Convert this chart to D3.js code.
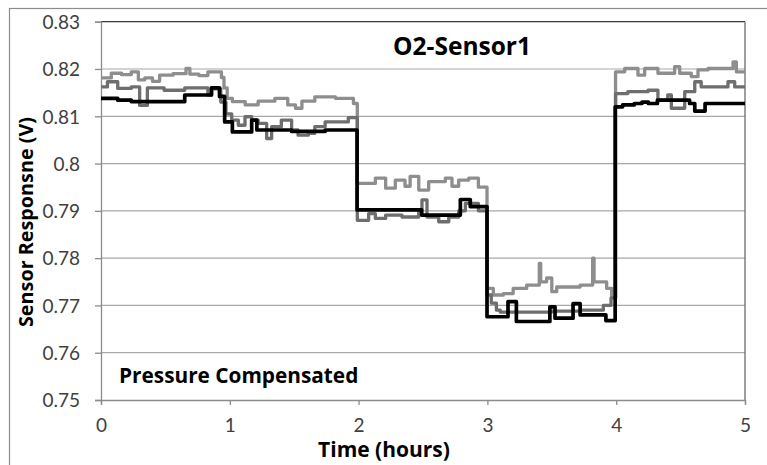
<!DOCTYPE html>
<html>
<head>
<meta charset="utf-8">
<script src="https://cdn.jsdelivr.net/npm/d3@7"></script>
<style>
  html, body { margin: 0; padding: 0; background: #fff; }
  svg { display: block; }
  text { font-family: Lato, "Open Sans", "DejaVu Sans", sans-serif; }
  .bold-label { font-family: "Open Sans", Lato, "DejaVu Sans", sans-serif; font-weight: bold; }
</style>
</head>
<body>
<svg id="chart" width="767" height="465"></svg>
<script>
// Sensor response over time, three traces, [hours, volts] step samples
const traceUpper = [
  [0,0.8181],[0.08,0.8191],[0.16,0.8188],[0.235,0.8194],[0.29,0.8177],[0.34,0.8181],
  [0.40,0.8174],[0.455,0.8187],[0.56,0.8190],[0.66,0.8201],[0.69,0.8189],[0.76,0.8186],
  [0.83,0.8194],[0.935,0.8182],[0.955,0.8160],[0.98,0.8138],
  [1.02,0.8131],[1.12,0.8124],[1.22,0.8132],[1.35,0.8138],[1.45,0.8124],[1.51,0.8117],
  [1.56,0.8132],[1.66,0.8141],[1.82,0.8138],[1.96,0.8127],
  [1.99,0.7958],[2.13,0.7969],[2.21,0.7948],[2.285,0.7965],[2.36,0.7952],[2.40,0.7973],
  [2.467,0.7944],[2.544,0.7962],[2.673,0.7969],[2.725,0.7952],[2.777,0.7965],[2.855,0.7969],
  [2.93,0.7950],
  [2.997,0.7736],[3.046,0.7722],[3.124,0.7725],[3.20,0.7736],[3.305,0.7743],[3.403,0.7789],
  [3.414,0.7750],[3.46,0.7758],[3.50,0.7729],[3.538,0.7739],[3.72,0.7743],[3.817,0.7800],
  [3.828,0.7750],[3.926,0.7736],[3.965,0.7716],
  [3.995,0.8194],[4.066,0.8201],[4.169,0.8187],[4.221,0.8201],[4.324,0.8191],[4.454,0.8205],
  [4.493,0.8191],[4.583,0.8184],[4.635,0.8198],[4.713,0.8201],[4.907,0.8215],[4.933,0.8194],
  [5.0,0.8194]
];

const traceMiddle = [
  [0,0.8162],[0.05,0.8173],[0.13,0.8159],[0.235,0.8162],[0.30,0.8123],[0.36,0.8160],
  [0.49,0.8155],[0.65,0.8160],[0.83,0.8145],[0.86,0.8158],[0.93,0.8130],[0.97,0.8105],
  [1.015,0.8092],[1.066,0.8081],[1.118,0.8099],[1.17,0.8092],[1.22,0.8085],[1.286,0.8053],
  [1.325,0.8078],[1.40,0.8092],[1.48,0.8071],[1.53,0.8060],[1.61,0.8064],[1.66,0.8078],
  [1.74,0.8088],[1.92,0.8097],
  [1.99,0.7880],[2.078,0.7894],[2.13,0.7884],[2.21,0.7891],[2.337,0.7887],[2.467,0.7900],
  [2.492,0.7923],[2.531,0.7887],[2.622,0.7877],[2.70,0.7887],[2.777,0.7900],[2.829,0.7916],
  [2.93,0.7900],
  [2.997,0.7722],[3.03,0.7705],[3.07,0.7690],[3.10,0.7686],[3.50,0.7688],[3.72,0.7690],
  [3.90,0.7700],[3.96,0.7716],
  [3.995,0.8148],[4.09,0.8152],[4.247,0.8155],[4.324,0.8134],[4.40,0.8145],[4.428,0.8117],
  [4.532,0.8152],[4.61,0.8173],[4.66,0.8162],[4.868,0.8173],[4.92,0.8162],[5.0,0.8162]
];

const traceLower = [
  [0,0.8138],[0.13,0.8134],[0.235,0.8131],[0.65,0.8145],[0.857,0.8160],[0.92,0.8142],
  [0.96,0.8088],[1.02,0.8067],[1.17,0.8092],[1.21,0.8071],[1.48,0.8068],[1.74,0.8071],
  [1.988,0.7902],[2.49,0.7891],[2.79,0.7924],[2.867,0.7909],
  [2.997,0.7676],[3.16,0.7708],[3.225,0.7666],[3.485,0.7697],[3.525,0.7673],[3.665,0.7704],
  [3.72,0.7680],[3.92,0.7668],
  [3.992,0.8120],[4.05,0.8124],[4.14,0.8127],[4.20,0.8130],[4.25,0.8127],[4.32,0.8134],
  [4.57,0.8127],[4.61,0.8111],[4.69,0.8127],[5.0,0.8127]
];

const xTicks = [0, 1, 2, 3, 4, 5];
const yTicks = [0.75, 0.76, 0.77, 0.78, 0.79, 0.80, 0.81, 0.82, 0.83];
const yTickLabels = ["0.75", "0.76", "0.77", "0.78", "0.79", "0.8", "0.81", "0.82", "0.83"];

const chartTitle = "O2-Sensor1";
const noteText = "Pressure Compensated";
const xTitle = "Time (hours)";
const yTitle = "Sensor Responsne (V)";

const svg = d3.select("#chart");
const plot = { left: 101, right: 745, top: 21.7, bottom: 400 };

const x = d3.scaleLinear().domain([0, 5]).range([plot.left, plot.right]);
const y = d3.scaleLinear().domain([0.75, 0.83]).range([plot.bottom, plot.top]);

// outer chart frame
svg.append("rect")
  .attr("x", 9.5).attr("y", 8.5)
  .attr("width", 800).attr("height", 500)
  .attr("fill", "none").attr("stroke", "#8c8c8c").attr("stroke-width", 1.2);

// horizontal gridlines
svg.append("g").selectAll("line")
  .data(yTicks.slice(1, -1))
  .join("line")
  .attr("x1", plot.left).attr("x2", plot.right)
  .attr("y1", d => y(d)).attr("y2", d => y(d))
  .attr("stroke", "#a8a8a8").attr("stroke-width", 1.2);

// plot top and right border
svg.append("line")
  .attr("x1", plot.left).attr("x2", plot.right)
  .attr("y1", plot.top).attr("y2", plot.top)
  .attr("stroke", "#3a3a3a").attr("stroke-width", 1.3);
svg.append("line")
  .attr("x1", plot.right).attr("x2", plot.right)
  .attr("y1", plot.top).attr("y2", plot.bottom)
  .attr("stroke", "#6a6a6a").attr("stroke-width", 1.3);

// y axis
const yAxis = d3.axisLeft(y)
  .tickValues(yTicks)
  .tickFormat((d, i) => yTickLabels[i])
  .tickSize(6)
  .tickPadding(15);
const gy = svg.append("g").attr("transform", `translate(${plot.left},0)`).call(yAxis);
gy.select(".domain").attr("stroke", "#8c8c8c").attr("stroke-width", 1.3);
gy.selectAll(".tick line").attr("stroke", "#8c8c8c").attr("stroke-width", 1.3);
gy.selectAll(".tick text")
  .attr("fill", "#404040")
  .style("font-size", "19px")
  .attr("dy", "0.36em");

// x axis
const xAxis = d3.axisBottom(x).tickValues(xTicks).tickFormat(d3.format("d")).tickSize(5).tickPadding(14);
const gx = svg.append("g").attr("transform", `translate(0,${plot.bottom})`).call(xAxis);
gx.select(".domain").attr("stroke", "#8c8c8c").attr("stroke-width", 1.3);
gx.selectAll(".tick line").attr("stroke", "#8c8c8c").attr("stroke-width", 1.3);
gx.selectAll(".tick text")
  .attr("fill", "#404040")
  .style("font-size", "19px")
  .attr("dy", "0.71em");

// traces
const line = d3.line()
  .x(d => x(d[0]))
  .y(d => y(d[1]))
  .curve(d3.curveStepAfter);

const traces = [
  { data: traceUpper, color: "#8e8e8e", width: 3.3 },
  { data: traceMiddle, color: "#6e6e6e", width: 3.3 },
  { data: traceLower, color: "#000000", width: 3.7 }
];

svg.append("g").selectAll("path")
  .data(traces)
  .join("path")
  .attr("d", d => line(d.data))
  .attr("fill", "none")
  .attr("stroke", d => d.color)
  .attr("stroke-width", d => d.width)
  .attr("stroke-linejoin", "round");

// titles and annotation
svg.append("text")
  .attr("class", "bold-label")
  .attr("x", 462).attr("y", 55)
  .attr("text-anchor", "middle")
  .style("font-size", "24.5px")
  .attr("fill", "#000")
  .text(chartTitle);

svg.append("text")
  .attr("class", "bold-label")
  .attr("x", 119).attr("y", 383)
  .style("font-size", "20.8px")
  .attr("fill", "#000")
  .text(noteText);

svg.append("text")
  .attr("class", "bold-label")
  .attr("x", 384).attr("y", 457)
  .attr("text-anchor", "middle")
  .style("font-size", "21px")
  .attr("fill", "#000")
  .text(xTitle);

svg.append("text")
  .attr("class", "bold-label")
  .attr("transform", "translate(33,222) rotate(-90)")
  .attr("text-anchor", "middle")
  .style("font-size", "19.8px")
  .attr("fill", "#000")
  .text(yTitle);
</script>
</body>
</html>
